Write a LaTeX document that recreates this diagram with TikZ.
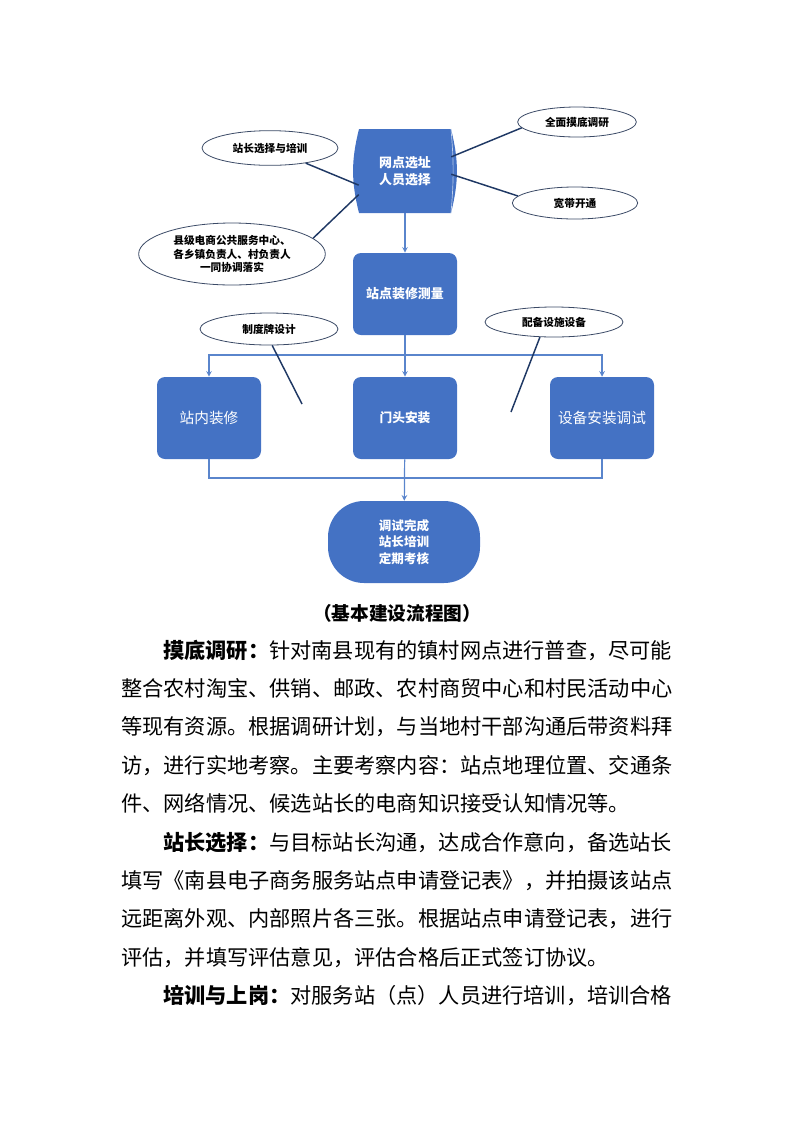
\documentclass[tikz,border=0pt]{standalone}
\usepackage{fontspec}
\setmainfont{Noto Sans CJK SC}
\usepackage{tikz}
\usetikzlibrary{shapes,positioning}
\definecolor{boxblue}{HTML}{4472C4}
\definecolor{lineblue}{HTML}{5A85CC}
\definecolor{tieblue}{HTML}{1F3864}
\definecolor{ellgray}{HTML}{3B4A66}
\tikzset{blk/.style={rectangle,rounded corners=6pt,fill=boxblue,text=white,minimum width=78pt,minimum height=61.5pt,inner sep=0pt,align=center,font=\bfseries\fontsize{9.7pt}{12.7pt}\selectfont}}
\tikzset{ell/.style={ellipse,draw=ellgray,line width=0.6pt,fill=white,inner sep=0pt,align=center,font=\bfseries\fontsize{8pt}{10pt}\selectfont}}
\tikzset{flow/.style={draw=lineblue,line width=0.9pt}}
\tikzset{tie/.style={draw=tieblue,line width=1.1pt}}
\tikzset{txt/.style={anchor=base west,inner sep=0pt,font=\fontsize{15.9pt}{15.9pt}\selectfont}}

\begin{document}
\begin{tikzpicture}[>=stealth,x=0.75pt,y=-0.75pt]
    \useasboundingbox (0,0) rectangle (793,1122);

    % flow chart
    \fill[boxblue] (359,129) to[bend right=14] (359,213) -- (451,213) to[bend right=14] (451,129) -- cycle;
    \draw[white!65!boxblue,line width=0.5pt] (451,129) to[bend left=5] (451,213);
    \node[blk,fill=none,rounded corners=0pt,minimum width=69pt,minimum height=63pt] (site) at (405,171) {网点选址\\人员选择};

    \node[blk] (zxcl) at (405,294) {站点装修测量};
    \node[blk,font=\fontsize{11pt}{13pt}\selectfont] (znzx) at (209,418) {站内装修};
    \node[blk,font=\bfseries\fontsize{9.5pt}{12pt}\selectfont] (mtaz) at (405,418) {门头安装};
    \node[blk,font=\fontsize{11pt}{13pt}\selectfont] (sbaz) at (602,418) {设备安装调试};
    \node[blk,rounded corners=27pt,minimum width=114pt,font=\bfseries\fontsize{9.4pt}{12.4pt}\selectfont] (done) at (404,542) {调试完成\\站长培训\\定期考核};

    \node[ell,minimum width=102pt,minimum height=26pt] (pxe) at (270,148) {站长选择与培训};
    \node[ell,minimum width=89pt,minimum height=22.5pt] (qm) at (577,122) {全面摸底调研};
    \node[ell,minimum width=94pt,minimum height=24pt] (kd) at (575,203) {宽带开通};
    \node[ell,minimum width=140pt,minimum height=46.5pt] (xj) at (232,254) {县级电商公共服务中心、\\各乡镇负责人、村负责人\\一同协调落实};
    \node[ell,minimum width=103.5pt,minimum height=24pt] (zd) at (269,329) {制度牌设计};
    \node[ell,minimum width=103.5pt,minimum height=22.5pt] (pb) at (554,322) {配备设施设备};

    \coordinate (bar) at (405,355);
    \coordinate (join) at (405,478);
    \coordinate (zdend) at (302,404);
    \coordinate (pbend) at (511,412);

    \draw[flow,->] (site) -- (zxcl);
    \draw[flow,->] (zxcl) -- (mtaz);
    \draw[flow,->] (bar) -| (znzx);
    \draw[flow,->] (bar) -| (sbaz);
    \draw[flow] (znzx) |- (join);
    \draw[flow] (sbaz) |- (join);
    \draw[flow,->] (mtaz) -- (done);

    \draw[tie] (pxe.337) -- (site.197);
    \draw[tie] (site.17) -- (qm.186);
    \draw[tie] (site.356) -- (kd.173);
    \draw[tie] (site.207) -- (xj.11);
    \draw[tie] (zd.281) -- (zdend);
    \draw[tie] (pb.227) -- (pbend);

    % caption and text
    \node[font=\bfseries\fontsize{14pt}{14pt}\selectfont,inner sep=0pt] (cap) at (397,613) {（基本建设流程图）};

    \node[txt] (l1) at (163,658) {\textbf{摸底调研：}针对南县现有的镇村网点进行普查，尽可能};
    \node[txt] (l2) at (121,696.4) {整合农村淘宝、供销、邮政、农村商贸中心和村民活动中心};
    \node[txt] (l3) at (121,734.8) {等现有资源。根据调研计划，与当地村干部沟通后带资料拜};
    \node[txt] (l4) at (121,773.2) {访，进行实地考察。主要考察内容：站点地理位置、交通条};
    \node[txt] (l5) at (121,811.6) {件、网络情况、候选站长的电商知识接受认知情况等。};
    \node[txt] (l6) at (163,850) {\textbf{站长选择：}与目标站长沟通，达成合作意向，备选站长};
    \node[txt] (l7) at (121,888.4) {填写《南县电子商务服务站点申请登记表》，并拍摄该站点};
    \node[txt] (l8) at (121,926.8) {远距离外观、内部照片各三张。根据站点申请登记表，进行};
    \node[txt] (l9) at (121,965.2) {评估，并填写评估意见，评估合格后正式签订协议。};
    \node[txt] (l10) at (163,1003.6) {\textbf{培训与上岗：}对服务站（点）人员进行培训，培训合格};
\end{tikzpicture}
\end{document}
